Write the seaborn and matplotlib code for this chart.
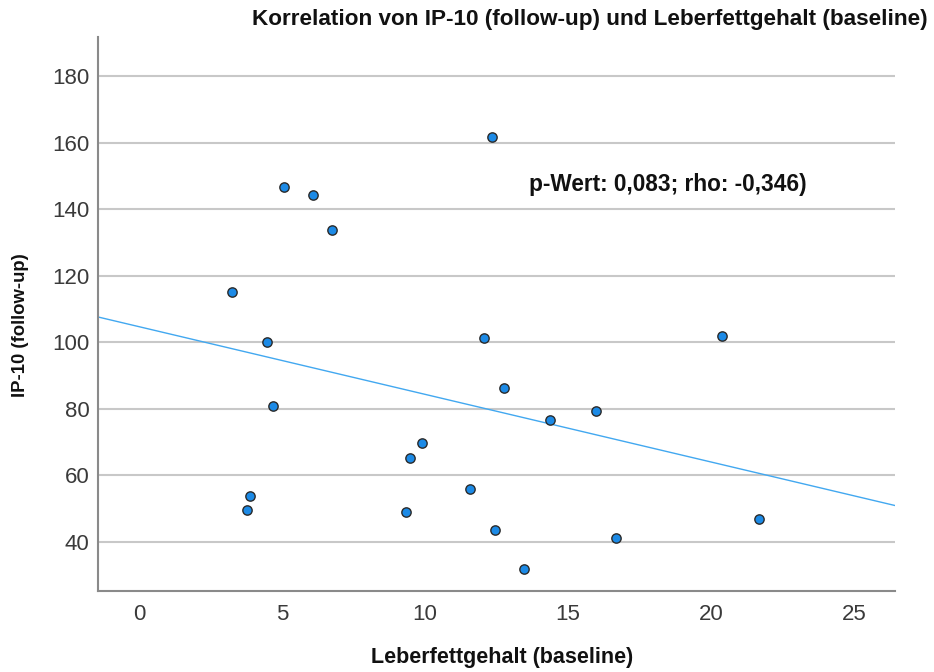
import matplotlib
matplotlib.use("Agg")
import matplotlib.pyplot as plt
import seaborn as sns
import pandas as pd

leberfett = [12.36, 5.07, 6.08, 6.76, 3.26, 4.47, 12.07, 20.38, 4.68, 12.77, 14.38,
             15.99, 9.88, 9.46, 11.57, 3.87, 3.77, 9.35, 12.46, 21.66, 16.68, 13.47]
ip10 = [161.6, 146.6, 144.2, 133.7, 115.0, 100.2, 101.3, 101.9, 80.9, 86.4, 76.8,
        79.3, 69.8, 65.2, 55.9, 53.7, 49.6, 49.1, 43.6, 47.0, 41.3, 31.9]
x_ticks = [0, 5, 10, 15, 20, 25]
y_ticks = [40, 60, 80, 100, 120, 140, 160, 180]

title = "Korrelation von IP-10 (follow-up) und Leberfettgehalt (baseline)"
x_label = "Leberfettgehalt (baseline)"
y_label = "IP-10 (follow-up)"
annotation = "p-Wert: 0,083; rho: -0,346)"

df = pd.DataFrame({"x": leberfett, "y": ip10})

sns.set_theme(style="white")
plt.rcParams["font.family"] = ["Liberation Sans", "DejaVu Sans"]

fig = plt.figure(figsize=(9.34, 6.72), dpi=100)
ax = fig.add_axes([98 / 934, 81 / 672, 797 / 934, 554 / 672])
ax.set_xlim(-1.43, 26.43)
ax.set_ylim(25.3, 191.7)

for yt in y_ticks:
    ax.axhline(yt, color="#c8c8c8", lw=1.5, zorder=0)

sns.regplot(data=df, x="x", y="y", ax=ax, ci=None, truncate=False,
            scatter_kws=dict(s=45, color="#1c8ae6", edgecolor="#2a2a2a",
                             linewidths=1.0, alpha=1, zorder=3),
            line_kws=dict(color="#42a8f0", lw=1.0, zorder=2))

ax.set_xlim(-1.43, 26.43)
ax.set_ylim(25.3, 191.7)
ax.set_xticks(x_ticks)
ax.set_yticks(y_ticks)
ax.tick_params(axis="both", length=0, labelsize=16, labelcolor="#3a3a3a")
ax.tick_params(axis="y", pad=6)
ax.tick_params(axis="x", pad=9)

for s in ["top", "right"]:
    ax.spines[s].set_visible(False)
for s in ["left", "bottom"]:
    ax.spines[s].set_color("#8a8a8a")
    ax.spines[s].set_linewidth(1.5)

ax.set_xlabel("")
ax.set_ylabel("")
fig.text(502 / 934, 1 - 658 / 672, x_label, fontsize=15.5, fontweight="bold",
         color="#111111", ha="center", va="center")
fig.text(21 / 934, 1 - 325 / 672, y_label, fontsize=13.3, fontweight="bold",
         color="#111111", ha="center", va="center", rotation=90)

ax.text(13.65, 147.3, annotation, fontsize=16.3, fontweight="bold", color="#111111",
        ha="left", va="center")

fig.text(928 / 934, 1 - 20 / 672, title, fontsize=16.2, fontweight="bold",
         color="#111111", ha="right", va="center")

fig.savefig("out.png", dpi=100)
